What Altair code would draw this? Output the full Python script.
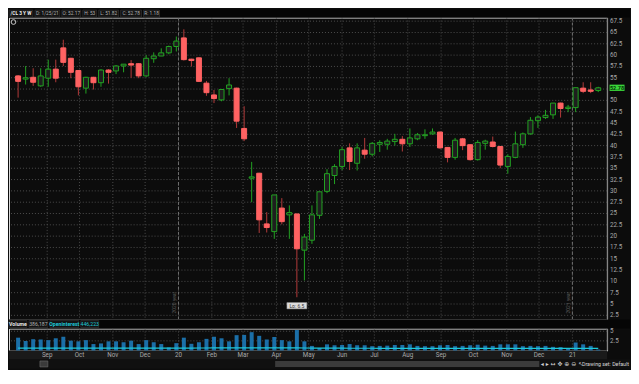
import altair as alt
import pandas as pd

# ---------------- data (weekly /CL candles) ----------------
first_week = "2019-08-05"
opens = [55.4, 54.7, 55.1, 53.2, 54.9, 56.9, 61.6, 59.3, 56.6, 52.7,
         55.1, 53.9, 56.7, 56.5, 57.6, 58.1, 58.1, 55.4, 59.2, 59.8,
         60.5, 61.9, 63.8, 59.1, 59.4, 53.8, 51.2, 50.1, 52.6, 52.7,
         43.8, 32.8, 33.9, 22.7, 21.0, 26.2, 24.7, 24.9, 16.9, 19.1,
         24.6, 29.9, 33.4, 35.4, 39.5, 36.1, 39.0, 38.1, 40.3, 40.3,
         40.9, 41.4, 40.4, 41.5, 42.2, 42.6, 43.0, 39.6, 37.4, 41.5,
         40.2, 36.9, 40.5, 40.8, 39.8, 35.4, 37.4, 40.2, 42.6, 45.5,
         46.2, 46.8, 49.4, 48.2, 48.4, 52.7, 52.3, 52.17]
highs = [55.6, 57.6, 57.1, 57.1, 59.0, 59.0, 63.4, 59.4, 56.7, 55.2,
         55.2, 56.9, 56.9, 57.8, 58.0, 58.9, 58.2, 60.0, 60.6, 61.5,
         62.1, 64.1, 65.7, 59.2, 59.5, 54.3, 52.3, 52.4, 54.9, 52.8,
         48.7, 36.4, 34.0, 25.3, 29.1, 28.4, 26.8, 25.0, 20.5, 26.8,
         29.8, 34.8, 35.9, 39.7, 40.5, 40.5, 41.7, 40.8, 41.2, 41.5,
         42.6, 42.1, 43.8, 42.8, 43.6, 43.8, 43.1, 39.7, 41.7, 41.7,
         40.3, 41.2, 41.3, 42.0, 39.9, 38.1, 43.1, 42.9, 46.3, 46.7,
         47.9, 49.4, 49.5, 49.0, 52.8, 54.0, 54.0, 53.0]
lows = [50.6, 53.5, 53.2, 53.0, 53.0, 54.0, 57.6, 54.9, 51.1, 51.5,
        52.4, 53.0, 53.7, 55.8, 56.2, 55.0, 54.9, 55.2, 58.3, 59.8,
        60.2, 60.8, 58.8, 57.5, 54.1, 51.0, 49.4, 49.8, 51.1, 43.9,
        41.0, 27.5, 20.7, 20.8, 19.4, 22.6, 19.4, 6.5, 10.2, 18.3,
        23.8, 29.5, 31.5, 34.6, 34.6, 34.5, 37.1, 37.6, 38.6, 39.1,
        40.0, 38.7, 39.7, 41.2, 41.5, 42.4, 39.3, 36.3, 36.9, 39.0,
        36.7, 36.7, 39.1, 39.6, 35.0, 33.8, 37.2, 39.5, 42.4, 43.9,
        45.9, 45.9, 46.2, 47.4, 47.4, 51.6, 51.6, 51.82]
closes = [54.2, 55.0, 54.0, 55.4, 56.9, 54.9, 58.4, 56.2, 53.0, 55.1,
          53.9, 56.7, 56.2, 57.6, 58.0, 57.8, 55.4, 59.3, 59.8, 60.5,
          61.9, 63.1, 59.0, 58.8, 54.2, 51.7, 50.4, 52.4, 53.4, 45.4,
          41.5, 33.1, 23.6, 21.9, 29.1, 23.2, 25.2, 17.2, 19.8, 24.7,
          29.8, 33.8, 35.4, 39.1, 36.5, 39.5, 38.1, 40.5, 40.7, 41.0,
          41.4, 40.4, 41.7, 42.4, 42.4, 43.0, 39.5, 37.4, 41.2, 40.0,
          36.9, 40.7, 41.0, 39.8, 35.7, 37.6, 40.4, 42.6, 45.6, 46.3,
          46.7, 49.4, 48.2, 48.5, 52.8, 52.0, 52.0, 52.78]
volume = [3.33, 2.45, 2.93, 2.86, 2.69, 3.17, 3.57, 2.55, 2.38, 2.69,
          1.67, 1.83, 2.38, 2.38, 2.14, 2.55, 1.67, 2.69, 2.14, 1.67,
          0.79, 1.90, 3.33, 1.74, 2.14, 3.02, 3.57, 3.17, 2.38, 3.98,
          4.05, 4.76, 3.81, 2.86, 3.50, 2.69, 2.38, 5.31, 2.38, 1.19,
          0.64, 1.60, 1.36, 1.43, 1.67, 1.36, 1.36, 1.12, 1.19, 1.26,
          1.43, 1.43, 1.60, 1.19, 1.12, 1.12, 1.36, 1.43, 1.12, 1.19,
          1.36, 1.50, 1.26, 1.19, 1.60, 1.60, 1.60, 1.12, 1.19, 1.12,
          1.19, 0.95, 0.88, 0.55, 2.07, 1.60, 1.19, 0.24]
open_interest = [0.60, 0.60, 0.61, 0.61, 0.62, 0.62, 0.62, 0.62, 0.63, 0.63,
                 0.63, 0.63, 0.62, 0.62, 0.62, 0.62, 0.63, 0.63, 0.63, 0.62,
                 0.62, 0.62, 0.63, 0.63, 0.64, 0.65, 0.66, 0.67, 0.68, 0.68,
                 0.69, 0.70, 0.70, 0.69, 0.69, 0.68, 0.67, 0.66, 0.64, 0.62,
                 0.60, 0.60, 0.59, 0.59, 0.58, 0.58, 0.58, 0.58, 0.57, 0.57,
                 0.57, 0.57, 0.57, 0.57, 0.56, 0.56, 0.56, 0.56, 0.56, 0.56,
                 0.56, 0.55, 0.55, 0.55, 0.55, 0.55, 0.55, 0.55, 0.55, 0.55,
                 0.55, 0.55, 0.55, 0.55, 0.54, 0.54, 0.54, 0.54]

price_levels = [2.5, 5, 7.5, 10, 12.5, 15, 17.5, 20, 22.5, 25, 27.5, 30, 32.5, 35,
                37.5, 40, 42.5, 45, 47.5, 50, 52.5, 55, 57.5, 60, 62.5, 65, 67.5]
volume_levels = [2.5, 5]
month_starts = ["2019-09-01", "2019-10-01", "2019-11-01", "2019-12-01", "2020-01-01",
                "2020-02-01", "2020-03-01", "2020-04-01", "2020-05-01", "2020-06-01",
                "2020-07-01", "2020-08-01", "2020-09-01", "2020-10-01", "2020-11-01",
                "2020-12-01", "2021-01-01"]
month_labels = ["Sep", "Oct", "Nov", "Dec", "20", "Feb", "Mar", "Apr", "May", "Jun",
                "Jul", "Aug", "Sep", "Oct", "Nov", "Dec", "21"]
year_marks = ["2020-01-01", "2021-01-01"]
year_labels = ["2020 year", "2021 year"]
last_price = 52.78
low_label = "Lo: 6.5"
header_items = ["/CL 3 Y W", "D: 1/25/21", "O: 52.17", "H: 53", "L: 51.82", "C: 52.78", "R: 1.18"]
vol_header_items = ["Volume", "386,187", "Openinterest", "446,223"]

# ---------------- layout / style ----------------
W, H1, H2, RIGHT = 600, 303, 22, 23
BG, PLOT, GRID = "#0c0c0c", "#1e1e1e", "#4c4c4c"
UP, DOWN, DOWN_WICK = "#22a322", "#ff6262", "#b23a3a"
TXT = "#a8a8a8"
FONT = "Roboto"

dates = pd.date_range(first_week, periods=len(opens), freq="7D").strftime("%Y-%m-%d")
df = pd.DataFrame({"date": dates, "open": opens, "high": highs, "low": lows,
                   "close": closes, "volume": volume, "oi": open_interest})
df["dir"] = ["up" if c >= o else "down" for o, c in zip(opens, closes)]

xscale = alt.Scale(type="utc", domain=[
    alt.DateTime(year=2019, month=8, date=1, hours=4, utc=True),
    alt.DateTime(year=2021, month=1, date=28, hours=14, utc=True)])


def X():
    return alt.X("date:T", scale=xscale, axis=None, title=None)


one = pd.DataFrame({"k": [0]})
yscale = alt.Scale(domain=[1.56, 68.3], nice=False, zero=False)
is_up = "datum.dir == 'up'"


def Yp(field):
    return alt.Y(f"{field}:Q", scale=yscale, axis=None, title=None)


grid_df = pd.DataFrame({"level": price_levels})
hgrid = alt.Chart(grid_df).mark_rule(color=GRID, strokeDash=[1, 2]).encode(y=Yp("level"))
months = pd.DataFrame({"date": month_starts, "label": month_labels})
vgrid = alt.Chart(months).mark_rule(color=GRID, strokeDash=[1, 2]).encode(x=X())
yr = pd.DataFrame({"date": year_marks, "label": year_labels})
year_rules = alt.Chart(yr).mark_rule(color="#707070", strokeDash=[3, 2]).encode(x=X())
year_text = alt.Chart(yr).mark_text(angle=270, fontSize=5, color="#5a5a5a", baseline="bottom",
                                    align="center", dy=-1, font=FONT).encode(
    x=X(), y=alt.value(286), text="label:N")

wicks = alt.Chart(df).mark_rule(strokeWidth=1).encode(
    x=X(), y=Yp("low"), y2="high:Q",
    color=alt.condition(is_up, alt.value(UP), alt.value(DOWN_WICK)))
bodies = alt.Chart(df).mark_bar(size=5, strokeWidth=1).encode(
    x=X(), y=Yp("open"), y2="close:Q",
    fill=alt.condition(is_up, alt.value(PLOT), alt.value(DOWN)),
    stroke=alt.condition(is_up, alt.value(UP), alt.value(DOWN)))

lo_df = df.loc[[df["low"].idxmin()]].assign(label=low_label)
RECT = "M-1,-0.32L1,-0.32L1,0.32L-1,0.32Z"
lo_box = alt.Chart(lo_df).mark_point(shape=RECT, size=400, filled=True, fill="#dcdcdc",
                                     stroke="#8a8a8a", strokeWidth=0.5, opacity=1,
                                     yOffset=8.5).encode(x=X(), y=Yp("low"))
lo_text = alt.Chart(lo_df).mark_text(fontSize=5, color="#333333", dy=8.5, font=FONT).encode(
    x=X(), y=Yp("low"), text="label:N")

# right price scale (labels drawn through the y scale)
axis_df = pd.DataFrame({"level": [v for v in price_levels if v != 52.5]})
axis_df["label"] = [f"{v:g}" for v in axis_df["level"]]
price_labels = alt.Chart(axis_df).mark_text(align="left", baseline="middle", fontSize=6.3,
                                            color=TXT, font=FONT).encode(
    x=alt.value(W + 3), y=Yp("level"), text="label:N")
price_edge = alt.Chart(one).mark_rule(color="#4d4d4d").encode(x=alt.value(W))

tag_df = pd.DataFrame({"price": [last_price], "label": [f"{last_price:.2f}"]})
tag = alt.Chart(tag_df).mark_point(shape="M-1,-0.42L1,-0.42L1,0.42L-1,0.42Z", size=225,
                                   filled=True, fill="#3ad63a", opacity=1).encode(
    x=alt.value(W + 10), y=Yp("price"))
tag_text = alt.Chart(tag_df).mark_text(fontSize=5.5, color="#053005", fontWeight="bold",
                                       font=FONT).encode(
    x=alt.value(W + 10), y=Yp("price"), text="label:N")

# header strip above the price panel
header_layers = [alt.Chart(one).mark_rect(fill="#050505").encode(
    x=alt.value(0), x2=alt.value(W + RIGHT), y=alt.value(-8), y2=alt.value(0))]
header_boxes = [(0, 24), (26, 51), (53, 72), (74, 88), (90, 110), (112, 133), (135, 151)]
for i, (label, (x0, x1)) in enumerate(zip(header_items, header_boxes)):
    header_layers.append(alt.Chart(one).mark_rect(fill="#131313", stroke="#3a3a3a",
                                                  strokeWidth=0.6).encode(
        x=alt.value(x0), x2=alt.value(x1), y=alt.value(-7.5), y2=alt.value(-0.5)))
    header_layers.append(alt.Chart(one).mark_text(
        text=label, fontSize=4.8, font=FONT, color="#f0f0f0" if i == 0 else "#b0b0b0",
        fontWeight="bold" if i == 0 else "normal").encode(
        x=alt.value((x0 + x1) / 2), y=alt.value(-4)))
icon = alt.Chart(one).mark_point(shape="circle", size=22, color="#c8c8c8", strokeWidth=1,
                                 opacity=1).encode(x=alt.value(4.5), y=alt.value(4.5))

price = alt.layer(hgrid, vgrid, year_rules, wicks, bodies, year_text, lo_box, lo_text,
                  price_edge, price_labels, tag, tag_text, *header_layers, icon).properties(
    width=W, height=H1)

# ---------------- volume panel ----------------
vscale = alt.Scale(domain=[0, 5.7], nice=False, zero=True)


def Yv(field):
    return alt.Y(f"{field}:Q", scale=vscale, axis=None, title=None)


vol_layers = [
    alt.Chart(one).mark_rect(fill="#050505").encode(
        x=alt.value(0), x2=alt.value(W + RIGHT), y=alt.value(-9), y2=alt.value(0)),
    alt.Chart(one).mark_rect(fill="#1a1a1a").encode(
        x=alt.value(0), x2=alt.value(W), y=alt.value(H2), y2=alt.value(H2 + 9)),
    alt.Chart(one).mark_rect(fill="#101010").encode(
        x=alt.value(0), x2=alt.value(W + RIGHT), y=alt.value(H2 + 9), y2=alt.value(H2 + 18)),
    alt.Chart(one).mark_rect(fill="#3b3b3b").encode(
        x=alt.value(267), x2=alt.value(532), y=alt.value(H2 + 10.5), y2=alt.value(H2 + 16.5)),
    alt.Chart(one).mark_rect(fill="#3b3b3b", stroke="#777777", strokeWidth=0.5).encode(
        x=alt.value(31), x2=alt.value(39), y=alt.value(H2 + 10.5), y2=alt.value(H2 + 16.5)),
    alt.Chart(one).mark_text(text="◂ ▸  ↔ ✥ ⊕ ⊖ ↖", fontSize=6, color="#d0d0d0",
                             font="DejaVu Sans", align="right").encode(
        x=alt.value(576), y=alt.value(H2 + 13.5)),
    alt.Chart(one).mark_text(text="Drawing set: Default", fontSize=5.3, color="#d8d8d8",
                             font=FONT, align="right").encode(
        x=alt.value(W + RIGHT - 1), y=alt.value(H2 + 13.5)),
]
vol_boxes = [(0, 18), (20, 39), (41, 70), (72, 90)]
for i, (label, (x0, x1)) in enumerate(zip(vol_header_items, vol_boxes)):
    vol_layers.append(alt.Chart(one).mark_rect(fill="#131313", stroke="#3a3a3a",
                                               strokeWidth=0.6).encode(
        x=alt.value(x0), x2=alt.value(x1), y=alt.value(-8), y2=alt.value(-1)))
    vol_layers.append(alt.Chart(one).mark_text(
        text=label, fontSize=5.2, font=FONT,
        color=["#e8e8e8", "#b0b0b0", "#1ec8d8", "#1ec8d8"][i],
        fontWeight="bold" if i in (0, 2) else "normal").encode(
        x=alt.value((x0 + x1) / 2), y=alt.value(-4.5)))

vgrid2 = alt.Chart(months).mark_rule(color=GRID, strokeDash=[1, 2]).encode(x=X())
vlev = pd.DataFrame({"level": volume_levels, "label": [f"{v:g}" for v in volume_levels]})
hgrid2 = alt.Chart(vlev).mark_rule(color=GRID, strokeDash=[1, 2]).encode(y=Yv("level"))
vbars = alt.Chart(df).mark_bar(size=4, color="#1b6fa8").encode(x=X(), y=Yv("volume"))
oi_line = alt.Chart(df).mark_line(color="#1ec8d8", strokeWidth=1.2).encode(x=X(), y=Yv("oi"))
vol_labels = alt.Chart(vlev).mark_text(align="left", baseline="middle", fontSize=6.3,
                                       color=TXT, font=FONT).encode(
    x=alt.value(W + 3), y=Yv("level"), text="label:N")
vol_edge = alt.Chart(one).mark_rule(color="#4d4d4d").encode(x=alt.value(W))
month_text = alt.Chart(months).mark_text(baseline="middle", fontSize=6.3, color=TXT,
                                         font=FONT).encode(
    x=X(), y=alt.value(H2 + 4.5), text="label:N")

vol = alt.layer(*vol_layers, vgrid2, hgrid2, vbars, oi_line, vol_edge, vol_labels,
                month_text).properties(width=W, height=H2)

chart = alt.vconcat(price, vol, spacing=9, bounds="flush").properties(
    padding=0, background=BG).configure_view(stroke=None, fill=PLOT).configure(font=FONT)

chart.save("out.html", embed_options={"renderer": "svg", "actions": False})
